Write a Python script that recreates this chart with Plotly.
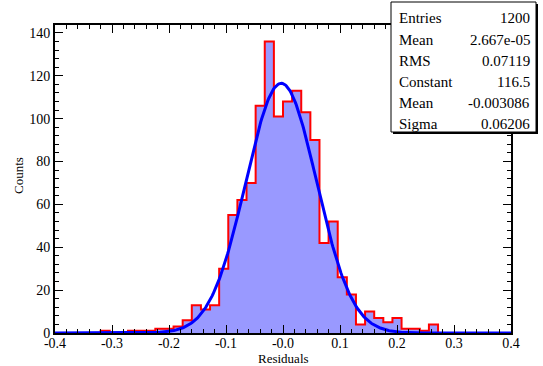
import numpy as np
import plotly.graph_objects as go

# ---- data ----
bin_low = -0.4
bin_high = 0.4
n_bins = 50
counts = [0, 0, 0, 0, 0, 1, 0, 0, 1, 1,
          1, 2, 2, 3, 6, 13, 11, 13, 30, 55,
          62, 70, 106, 136, 101, 108, 113, 103, 90, 42,
          52, 26, 18, 4, 10, 7, 5, 7, 2, 2,
          1, 4, 0, 0, 0, 0, 0, 0, 0, 0]
fit_constant = 116.5
fit_mean = -0.003086
fit_sigma = 0.06206
stats_labels = ["Entries", "Mean", "RMS", "Constant", "Mean", "Sigma"]
stats_values = ["1200", "2.667e-05", "0.07119", "116.5", "-0.003086", "0.06206"]
xtick_vals = [-0.4, -0.3, -0.2, -0.1, 0.0, 0.1, 0.2, 0.3, 0.4]
xtick_text = ["-0.4", "-0.3", "-0.2", "-0.1", "-0.0", "0.1", "0.2", "0.3", "0.4"]
ytick_vals = [0, 20, 40, 60, 80, 100, 120, 140]
x_title = "Residuals"
y_title = "Counts"

# ---- derived ----
bw = (bin_high - bin_low) / n_bins
edges = np.linspace(bin_low, bin_high, n_bins + 1)
centers = (edges[:-1] + edges[1:]) / 2
step_y = list(counts) + [counts[-1]]

xf = np.linspace(bin_low, bin_high, 500)
yf = fit_constant * np.exp(-0.5 * ((xf - fit_mean) / fit_sigma) ** 2)

FONT = "Liberation Serif"

fig = go.Figure()
fig.add_trace(go.Bar(x=centers, y=counts, width=bw,
                     marker=dict(color="#9999ff", line=dict(width=0)),
                     hoverinfo="skip"))
fig.add_trace(go.Scatter(x=edges, y=step_y, mode="lines",
                         line=dict(color="#ff0000", width=2, shape="hv"),
                         hoverinfo="skip"))
fig.add_trace(go.Scatter(x=xf, y=yf, mode="lines",
                         line=dict(color="#0000ff", width=3),
                         hoverinfo="skip"))

L, R, T, B = 55, 511, 25, 333
W, H = 543, 366


def px(x):
    return (x - L) / (R - L)


def py(y):
    return (B - y) / (B - T)


shapes = []
# shadow
shapes.append(dict(type="rect", xref="paper", yref="paper",
                   x0=px(393), x1=px(538), y0=py(134), y1=py(4),
                   fillcolor="black", line=dict(width=0), layer="above"))
shapes.append(dict(type="rect", xref="paper", yref="paper",
                   x0=px(391), x1=px(536), y0=py(132), y1=py(2),
                   fillcolor="white", line=dict(color="black", width=1), layer="above"))

annotations = []
row_y = [18, 40, 61, 82, 103, 124]
for lab, val, ry in zip(stats_labels, stats_values, row_y):
    annotations.append(dict(xref="paper", yref="paper", x=px(397), y=py(ry),
                            text=lab, showarrow=False, xanchor="left", yanchor="middle",
                            font=dict(family=FONT, size=15, color="black")))
    annotations.append(dict(xref="paper", yref="paper", x=px(532), y=py(ry),
                            text=val, showarrow=False, xanchor="right", yanchor="middle",
                            font=dict(family=FONT, size=15, color="black")))
annotations.append(dict(xref="paper", yref="paper", x=px(283), y=py(358),
                        text=x_title, showarrow=False, xanchor="center", yanchor="middle",
                        font=dict(family=FONT, size=13, color="black")))
annotations.append(dict(xref="paper", yref="paper", x=px(18), y=py(176),
                        text=y_title, showarrow=False, xanchor="center", yanchor="middle",
                        textangle=-90,
                        font=dict(family=FONT, size=13, color="black")))

fig.update_layout(
    width=W, height=H,
    margin=dict(l=L, r=W - R, t=T, b=H - B),
    paper_bgcolor="white", plot_bgcolor="white",
    showlegend=False, bargap=0,
    shapes=shapes, annotations=annotations,
    font=dict(family=FONT, size=14, color="black"),
    xaxis=dict(range=[bin_low, bin_high], tickvals=xtick_vals, ticktext=xtick_text,
               ticks="inside", ticklen=8, tickwidth=1, tickcolor="black",
               showline=True, linecolor="black", linewidth=2, mirror="ticks",
               showgrid=False, zeroline=False, automargin=False,
               ticklabelstandoff=-4,
               minor=dict(dtick=0.02, ticklen=4, ticks="inside", tickcolor="black", showgrid=False),
               tickfont=dict(family=FONT, size=14)),
    yaxis=dict(range=[0, 143.7], tickvals=ytick_vals,
               ticks="inside", ticklen=8, tickwidth=1, tickcolor="black",
               showline=True, linecolor="black", linewidth=2, mirror="ticks",
               showgrid=False, zeroline=False, automargin=False,
               minor=dict(dtick=4, ticklen=4, ticks="inside", tickcolor="black", showgrid=False),
               tickfont=dict(family=FONT, size=14)),
)

fig.write_html("out.html", config={"displayModeBar": False},
               post_script="document.body.style.margin='0';document.body.style.overflow='hidden';")
